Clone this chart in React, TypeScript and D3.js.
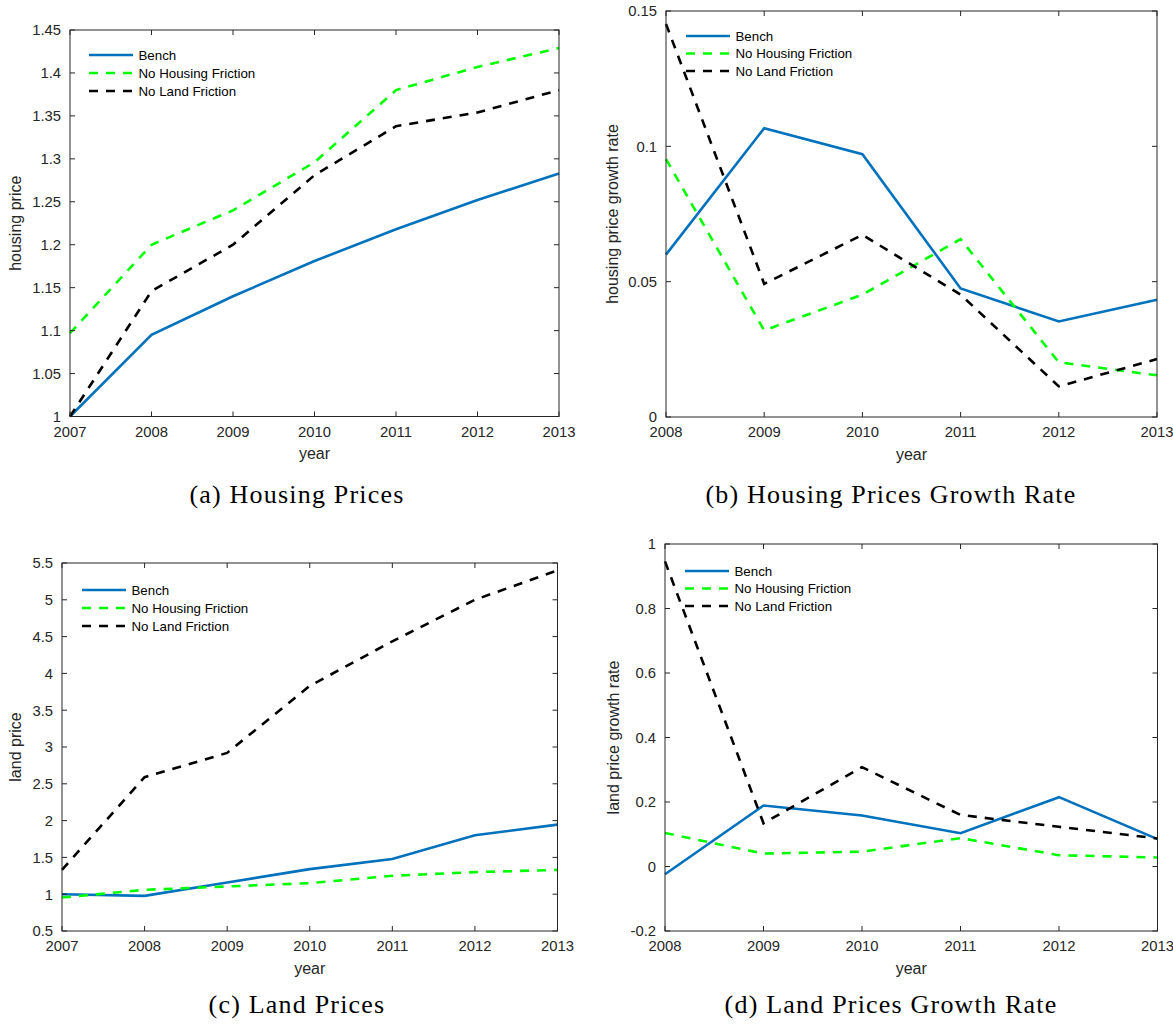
import React from "react";
import * as d3 from "d3";

// ---------- data ----------
const priceYears = [2007, 2008, 2009, 2010, 2011, 2012, 2013];
const growthYears = [2008, 2009, 2010, 2011, 2012, 2013];
const seriesNames = ["Bench", "No Housing Friction", "No Land Friction"];

const housingBench = [1.0, 1.095, 1.14, 1.181, 1.218, 1.252, 1.283];
const housingNoHousing = [1.097, 1.2, 1.24, 1.296, 1.38, 1.407, 1.429];
const housingNoLand = [1.0, 1.146, 1.2, 1.281, 1.338, 1.354, 1.38];

const housingGrowthBench = [0.06, 0.1067, 0.0971, 0.0475, 0.0353, 0.0433];
const housingGrowthNoHousing = [0.0953, 0.032, 0.0452, 0.0657, 0.0202, 0.0154];
const housingGrowthNoLand = [0.1452, 0.0492, 0.0673, 0.0452, 0.0113, 0.0214];

const landBench = [1.0, 0.977, 1.159, 1.341, 1.477, 1.8, 1.945];
const landNoHousing = [0.955, 1.059, 1.105, 1.15, 1.25, 1.3, 1.33];
const landNoLand = [1.332, 2.59, 2.92, 3.83, 4.436, 5.0, 5.4];

const landGrowthBench = [-0.024, 0.189, 0.158, 0.103, 0.215, 0.085];
const landGrowthNoHousing = [0.104, 0.04, 0.046, 0.088, 0.035, 0.028];
const landGrowthNoLand = [0.946, 0.134, 0.308, 0.16, 0.123, 0.087];

const housingTicks = [1, 1.05, 1.1, 1.15, 1.2, 1.25, 1.3, 1.35, 1.4, 1.45];
const housingTickLabels = ["1", "1.05", "1.1", "1.15", "1.2", "1.25", "1.3", "1.35", "1.4", "1.45"];
const housingGrowthTicks = [0, 0.05, 0.1, 0.15];
const housingGrowthTickLabels = ["0", "0.05", "0.1", "0.15"];
const landTicks = [0.5, 1, 1.5, 2, 2.5, 3, 3.5, 4, 4.5, 5, 5.5];
const landTickLabels = ["0.5", "1", "1.5", "2", "2.5", "3", "3.5", "4", "4.5", "5", "5.5"];
const landGrowthTicks = [-0.2, 0, 0.2, 0.4, 0.6, 0.8, 1];
const landGrowthTickLabels = ["-0.2", "0", "0.2", "0.4", "0.6", "0.8", "1"];

// ---------- styles ----------
const COLORS = ["#0072BD", "#00FF00", "#000000"];
const DASHES = [null, "9,8", "9,8"];
const AX = "#262626";
const SANS = "'Liberation Sans', Arial, Helvetica, sans-serif";
const SERIF = "'Liberation Serif', 'Times New Roman', serif";

type Panel = {
  caption: string;
  yLabel: string;
  years: number[];
  series: number[][];
  yTicks: number[];
  yTickLabels: string[];
  left: number; right: number; top: number; bottom: number;
  legendX: number; legendY: number; legendStep: number;
  yLabelX: number;
  captionX: number; captionY: number;
};

const panels: Panel[] = [
  {
    caption: "(a) Housing Prices", yLabel: "housing price", years: priceYears,
    series: [housingBench, housingNoHousing, housingNoLand],
    yTicks: housingTicks, yTickLabels: housingTickLabels,
    left: 70, right: 559, top: 30, bottom: 416.5,
    legendX: 89, legendY: 55, legendStep: 18, yLabelX: 17,
    captionX: 297, captionY: 503,
  },
  {
    caption: "(b) Housing Prices Growth Rate", yLabel: "housing price growth rate", years: growthYears,
    series: [housingGrowthBench, housingGrowthNoHousing, housingGrowthNoLand],
    yTicks: housingGrowthTicks, yTickLabels: housingGrowthTickLabels,
    left: 666, right: 1157, top: 11, bottom: 417,
    legendX: 686, legendY: 36, legendStep: 17.5, yLabelX: 614,
    captionX: 891, captionY: 503,
  },
  {
    caption: "(c) Land Prices", yLabel: "land price", years: priceYears,
    series: [landBench, landNoHousing, landNoLand],
    yTicks: landTicks, yTickLabels: landTickLabels,
    left: 62, right: 557.5, top: 563, bottom: 931,
    legendX: 82, legendY: 590, legendStep: 18, yLabelX: 17,
    captionX: 297, captionY: 1013,
  },
  {
    caption: "(d) Land Prices Growth Rate", yLabel: "land price growth rate", years: growthYears,
    series: [landGrowthBench, landGrowthNoHousing, landGrowthNoLand],
    yTicks: landGrowthTicks, yTickLabels: landGrowthTickLabels,
    left: 665, right: 1157.5, top: 544, bottom: 931,
    legendX: 685, legendY: 571, legendStep: 17.5, yLabelX: 615,
    captionX: 891, captionY: 1013,
  },
];

function PanelView({ p }: { p: Panel }) {
  const x = d3.scaleLinear().domain(d3.extent(p.years) as [number, number]).range([p.left, p.right]);
  const y = d3.scaleLinear()
    .domain([p.yTicks[0], p.yTicks[p.yTicks.length - 1]])
    .range([p.bottom, p.top]);
  const line = d3.line<number>().x((_, i) => x(p.years[i])).y((v) => y(v));
  const tl = 5;
  const tickFs = 14.8;
  const cy = (p.top + p.bottom) / 2;
  const cx = (p.left + p.right) / 2;
  return (
    <g>
      {p.series.map((s, i) => (
        <path key={i} d={line(s) || ""} fill="none" stroke={COLORS[i]} strokeWidth={2.6}
          strokeDasharray={DASHES[i] || undefined} strokeLinejoin="miter" />
      ))}
      <rect x={p.left} y={p.top} width={p.right - p.left} height={p.bottom - p.top}
        fill="none" stroke={AX} strokeWidth={1} />
      {p.years.map((yr) => (
        <g key={yr}>
          <line x1={x(yr)} x2={x(yr)} y1={p.bottom} y2={p.bottom - tl} stroke={AX} />
          <line x1={x(yr)} x2={x(yr)} y1={p.top} y2={p.top + tl} stroke={AX} />
          <text x={x(yr)} y={p.bottom + 20.3} textAnchor="middle" fontFamily={SANS}
            fontSize={tickFs} fill={AX}>{yr}</text>
        </g>
      ))}
      {p.yTicks.map((t, i) => (
        <g key={i}>
          <line x1={p.left} x2={p.left + tl} y1={y(t)} y2={y(t)} stroke={AX} />
          <line x1={p.right} x2={p.right - tl} y1={y(t)} y2={y(t)} stroke={AX} />
          <text x={p.left - 9} y={y(t) + 5.3} textAnchor="end" fontFamily={SANS}
            fontSize={tickFs} fill={AX}>{p.yTickLabels[i]}</text>
        </g>
      ))}
      <text x={cx} y={p.bottom + 42.5} textAnchor="middle" fontFamily={SANS} fontSize={16}
        fill={AX}>year</text>
      <text transform={`translate(${p.yLabelX + 4},${cy}) rotate(-90)`} textAnchor="middle"
        fontFamily={SANS} fontSize={16} fill={AX}>{p.yLabel}</text>
      {seriesNames.map((n, i) => {
        const ly = p.legendY + i * p.legendStep;
        return (
          <g key={n}>
            <line x1={p.legendX} x2={p.legendX + 44} y1={ly} y2={ly} stroke={COLORS[i]}
              strokeWidth={2.6} strokeDasharray={DASHES[i] || undefined} />
            <text x={p.legendX + 49.5} y={ly + 4.8} fontFamily={SANS} fontSize={13.3}
              fill="#000">{n}</text>
          </g>
        );
      })}
      <text x={p.captionX} y={p.captionY} textAnchor="middle" fontFamily={SERIF}
        fontSize={26} letterSpacing={1.2} fill="#000">{p.caption}</text>
    </g>
  );
}

export default function App() {
  return (
    <svg width={1173} height={1027} viewBox="0 0 1173 1027"
      style={{ position: "absolute", left: 0, top: 0, background: "#fff" }}>
      <rect x={0} y={0} width={1173} height={1027} fill="#fff" />
      {panels.map((p, i) => <PanelView key={i} p={p} />)}
    </svg>
  );
}
